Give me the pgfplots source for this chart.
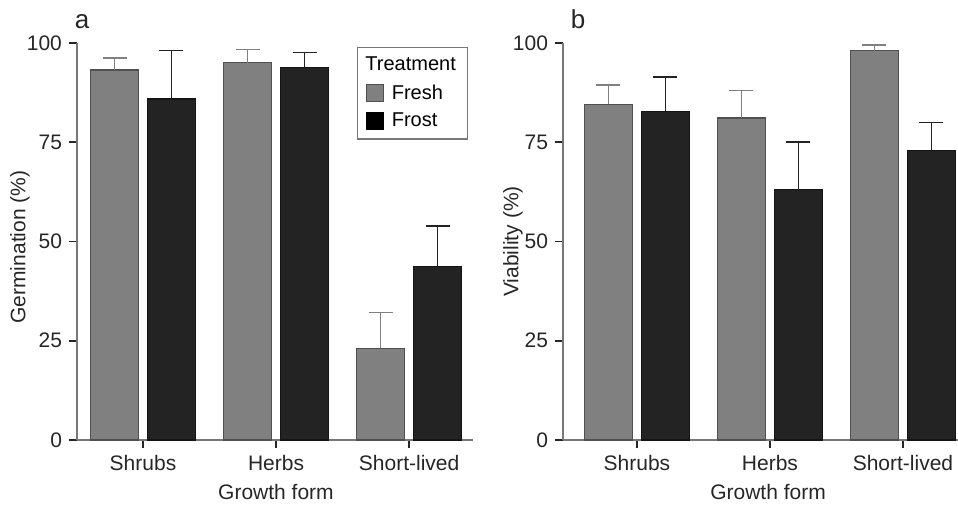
\documentclass[border=0pt]{standalone}
\usepackage{fontspec}
\setmainfont{Liberation Sans}
\usepackage{pgfplots}
\pgfplotsset{compat=1.18}
\definecolor{freshfill}{RGB}{128,128,128}
\definecolor{freshdraw}{RGB}{80,80,80}
\definecolor{frostfill}{RGB}{35,35,35}
\definecolor{frostdraw}{RGB}{20,20,20}
\definecolor{axisgray}{RGB}{120,120,120}
\pgfplotsset{
  legendbox/.style={legend image code/.code={\draw[##1, line width=0.5pt] (0pt,-4.25pt) rectangle (8.5pt,4.25pt);}},
  panel/.style={
    scale only axis, height=198.5pt,
    ymin=0, ymax=100, ytick={0,25,50,75,100},
    axis x line=bottom, axis y line=left,
    axis line style={axisgray, -, line width=0.6pt},
    tick align=outside, major tick length=4pt,
    tick style={black!85, line width=0.8pt},
    xtick={1,2,3}, xticklabels={Shrubs,Herbs,Short-lived},
    every tick label/.append style={font=\fontsize{10.5}{12}\selectfont, text=black!85},
    /pgf/number format/assume math mode=true,
    label style={font=\fontsize{10.5}{12}\selectfont, text=black!85},
    xlabel={Growth form},
  },
  fresh/.style={ybar, bar width=24pt, bar shift=0pt, fill=freshfill, draw=freshdraw, line width=0.6pt,
    error bars/.cd, y dir=plus, y explicit,
    error bar style={freshfill, line width=0.7pt},
    error mark options={rotate=90, mark size=6pt, freshfill, line width=0.7pt}},
  frost/.style={ybar, bar width=24pt, bar shift=0pt, fill=frostfill, draw=frostdraw, line width=0.6pt,
    error bars/.cd, y dir=plus, y explicit,
    error bar style={frostfill, line width=0.7pt},
    error mark options={rotate=90, mark size=6pt, frostfill, line width=0.7pt}},
}
\begin{document}
\begin{tikzpicture}
\path[use as bounding box] (-38.5pt,-32pt) rectangle (440.5pt,220pt);
\begin{axis}[panel, width=198pt, xmin=0.504, xmax=3.48,
  ylabel={Germination (\%)},
  ylabel style={at={(axis description cs:-0.144,0.486)}, anchor=center},
  xlabel style={at={(axis description cs:0.5025,0)}, anchor=center, yshift=-26pt},
  legend style={at={(rel axis cs:0.987,0.99)}, anchor=north east, draw=axisgray, line width=0.6pt,
    font=\fontsize{10}{12}\selectfont, nodes={inner sep=1.2pt}, row sep=3pt,
    inner xsep=4.5pt, inner ysep=3.5pt,
    /tikz/every odd column/.append style={column sep=2.5pt}},
  legend cell align=left]
\addplot[forget plot, fresh] coordinates {(0.786,93.2) +- (0,3.0) (1.786,95.0) +- (0,3.4) (2.786,23.1) +- (0,9.0)};
\addplot[forget plot, frost] coordinates {(1.214,85.9) +- (0,12.2) (2.214,93.9) +- (0,3.7) (3.214,43.8) +- (0,10.1)};
\addlegendimage{empty legend}
\addlegendentry{\hspace*{-13.2pt}Treatment}
\addlegendimage{legendbox, fill=freshfill, draw=freshdraw}
\addlegendentry{Fresh}
\addlegendimage{legendbox, fill=black, draw=black}
\addlegendentry{Frost}
\end{axis}
\begin{axis}[panel, at={(243pt,0pt)}, width=197.5pt, xmin=0.444, xmax=3.414,
  ylabel={Viability (\%)},
  ylabel style={at={(axis description cs:-0.127,0.5)}, anchor=center},
  xlabel style={at={(axis description cs:0.519,0)}, anchor=center, yshift=-26pt}]
\addplot[fresh] coordinates {(0.786,84.6) +- (0,4.8) (1.786,81.1) +- (0,6.9) (2.786,98.1) +- (0,1.4)};
\addplot[frost] coordinates {(1.214,82.8) +- (0,8.6) (2.214,63.0) +- (0,12.1) (3.214,73.0) +- (0,7.0)};
\end{axis}
\node[font=\fontsize{13}{15}\selectfont, text=black!85] at (2.5pt,209pt) {a};
\node[font=\fontsize{13}{15}\selectfont, text=black!85] at (250.5pt,210.5pt) {b};
\end{tikzpicture}
\end{document}
